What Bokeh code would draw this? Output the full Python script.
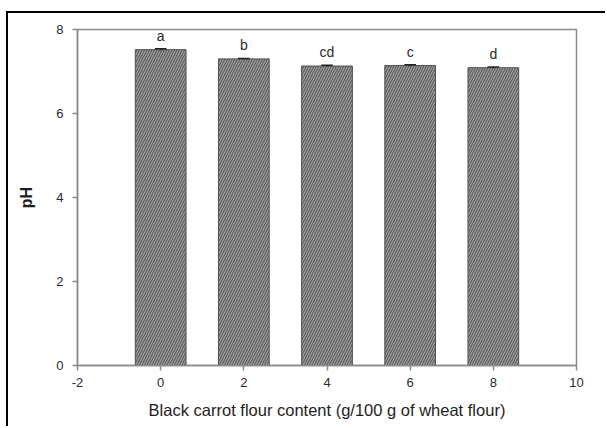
from bokeh.plotting import figure
from bokeh.models import ColumnDataSource, Range1d, FixedTicker, LabelSet
from bokeh.core.properties import value
from bokeh.embed import file_html
from bokeh.resources import INLINE

content = [0, 2, 4, 6, 8]
ph = [7.52, 7.30, 7.13, 7.14, 7.09]
err = [0.02, 0.01, 0.02, 0.02, 0.02]
letters = ["a", "b", "cd", "c", "d"]
x_ticks = [-2, 0, 2, 4, 6, 8, 10]
y_ticks = [0, 2, 4, 6, 8]

CAP = 0.14
src = ColumnDataSource(dict(
    x=content, top=ph,
    up=[v + e for v, e in zip(ph, err)],
    lo=[v - e for v, e in zip(ph, err)],
    xl=[c - CAP for c in content],
    xr=[c + CAP for c in content],
    lab=letters,
))

p = figure(width=599, height=415, output_backend="svg", toolbar_location=None,
           x_range=Range1d(-2, 10), y_range=Range1d(0, 8),
           min_border_left=69, min_border_top=16, min_border_right=31, min_border_bottom=63)
p.styles = {"border-top": "2px solid black", "border-left": "2px solid black",
            "margin-left": "6px", "margin-top": "11px"}
p.grid.visible = False
p.background_fill_color = "white"
p.border_fill_color = "white"
p.outline_line_color = "#8a8a8a"
p.outline_line_width = 1.5

p.vbar(x="x", top="top", bottom=0, width=1.22, source=src,
       fill_color="#9c9c9c", line_color="#505050", line_width=1,
       hatch_pattern="/", hatch_color="#4e4e4e", hatch_scale=5, hatch_weight=1)
p.segment(x0="x", x1="x", y0="lo", y1="up", source=src, line_color="#222222", line_width=1)
p.segment(x0="xl", x1="xr", y0="up", y1="up", source=src, line_color="#222222", line_width=1.5)

labels = LabelSet(x="x", y="up", text="lab", source=src, text_align="center",
                  text_baseline="bottom", y_offset=5, text_font=value("Liberation Sans"),
                  text_font_size="14px", text_color="#2a2a2a")
p.add_layout(labels)

for ax in (p.xaxis, p.yaxis):
    ax.axis_line_color = "#8a8a8a"
    ax.axis_line_width = 1.5
    ax.major_tick_line_color = "#8a8a8a"
    ax.major_tick_line_width = 1.5
    ax.major_tick_out = 5
    ax.major_tick_in = 0
    ax.minor_tick_line_color = None
    ax.major_label_text_font = "Liberation Sans"
    ax.major_label_text_font_size = "13px"
    ax.major_label_text_color = "#2a2a2a"
    ax.axis_label_text_font = "Liberation Sans"
    ax.axis_label_text_color = "#1e1e1e"
    ax.axis_label_text_font_style = "normal"

p.xaxis.ticker = FixedTicker(ticks=x_ticks)
p.xaxis.major_label_overrides = {-2: "-2"}
p.yaxis.ticker = FixedTicker(ticks=y_ticks)
p.xaxis.axis_label = "Black carrot flour content (g/100 g of wheat flour)"
p.xaxis.axis_label_text_font_size = "16.5px"
p.xaxis.major_label_standoff = 7
p.xaxis.axis_label_standoff = 11
p.yaxis.axis_label = "pH"
p.yaxis.axis_label_text_font_size = "16px"
p.yaxis.axis_label_text_font_style = "bold"
p.yaxis.major_label_standoff = 9
p.yaxis.axis_label_standoff = 18

open("out.html", "w").write(file_html(p, INLINE))
